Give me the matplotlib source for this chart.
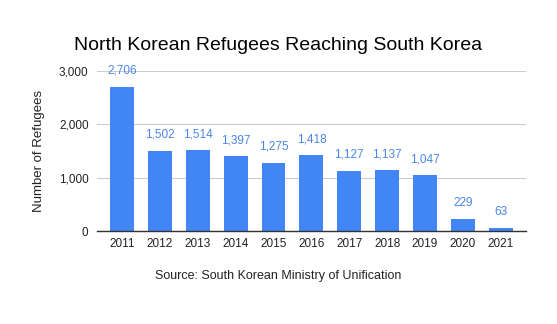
import matplotlib.pyplot as plt

years = ["2011", "2012", "2013", "2014", "2015", "2016", "2017", "2018", "2019", "2020", "2021"]
refugees = [2706, 1502, 1514, 1397, 1275, 1418, 1127, 1137, 1047, 229, 63]

plt.rcParams['font.family'] = ['Liberation Sans', 'DejaVu Sans']

fig = plt.figure(figsize=(5.57, 3.24), dpi=100)
ax = fig.add_axes([0.174, 0.287, 0.77, 0.494])

x = range(len(years))
ax.bar(x, refugees, width=0.63, color="#4285F4", zorder=3)
for i, v in zip(x, refugees):
    ax.text(i, v + 190, f"{v:,}", ha="center", va="bottom", fontsize=8.5, color="#4a86e8")

ax.set_xlim(-0.66, len(years) - 1 + 0.66)
ax.set_ylim(0, 3000)
ax.set_yticks([0, 1000, 2000, 3000])
ax.set_yticklabels(["0", "1,000", "2,000", "3,000"])
ax.set_xticks(list(x))
ax.set_xticklabels(years)
ax.tick_params(axis="both", length=0, labelsize=8.5, colors="#222222")
ax.tick_params(axis="y", pad=6)
ax.tick_params(axis="x", pad=5)
ax.grid(axis="y", color="#cccccc", linewidth=0.8, zorder=0)
for s in ["top", "right", "left"]:
    ax.spines[s].set_visible(False)
ax.spines["bottom"].set_color("#333333")
ax.spines["bottom"].set_linewidth(1)
ax.spines["bottom"].set_zorder(4)

ax.set_ylabel("Number of Refugees", fontsize=9.5, color="#222222", labelpad=10)
fig.text(0.5, 0.86, "North Korean Refugees Reaching South Korea", ha="center", va="center", fontsize=14, color="#000000")
fig.text(0.5, 0.148, "Source: South Korean Ministry of Unification", ha="center", va="center", fontsize=9, color="#222222")

fig.savefig("out.png", dpi=100)
